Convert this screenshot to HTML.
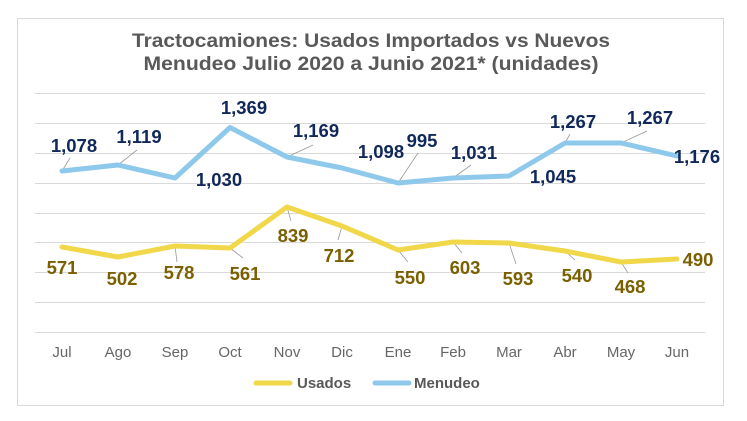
<!DOCTYPE html>
<html><head><meta charset="utf-8"><style>
body{margin:0;background:#fff;}
svg{display:block;font-family:"Liberation Sans",sans-serif;}
</style></head><body>
<svg width="747" height="421" viewBox="0 0 747 421">
<rect x="17.5" y="18.5" width="706" height="387" fill="#fff" stroke="#d9d9d9" stroke-width="1"/>
<g font-weight="bold" fill="#595959" font-size="19" text-anchor="middle">
<text x="371" y="47" textLength="478" lengthAdjust="spacingAndGlyphs">Tractocamiones: Usados Importados  vs Nuevos</text>
<text x="371" y="70" textLength="455" lengthAdjust="spacingAndGlyphs">Menudeo  Julio 2020 a Junio 2021* (unidades)</text>
</g>
<g stroke="#d9d9d9" stroke-width="1">
<line x1="35" x2="705" y1="93.5" y2="93.5"/><line x1="35" x2="705" y1="123.5" y2="123.5"/>
<line x1="35" x2="705" y1="153.5" y2="153.5"/><line x1="35" x2="705" y1="183.5" y2="183.5"/>
<line x1="35" x2="705" y1="213.5" y2="213.5"/><line x1="35" x2="705" y1="242.5" y2="242.5"/>
<line x1="35" x2="705" y1="272.5" y2="272.5"/><line x1="35" x2="705" y1="302.5" y2="302.5"/>
<line x1="35" x2="705" y1="332.5" y2="332.5"/>
</g>
<g stroke="#999" stroke-width="0.8">
<line x1="62" y1="171" x2="70" y2="158"/><line x1="118" y1="165" x2="137" y2="150"/>
<line x1="287" y1="157" x2="313" y2="145"/><line x1="398" y1="183" x2="418" y2="153"/>
<line x1="453" y1="178" x2="471" y2="165"/><line x1="565" y1="143" x2="570" y2="134"/>
<line x1="621" y1="143" x2="647" y2="131"/>
<line x1="175" y1="246" x2="177" y2="262"/><line x1="230" y1="248" x2="243" y2="258"/>
<line x1="287" y1="207" x2="291" y2="221"/><line x1="342" y1="226" x2="338" y2="240"/>
<line x1="398" y1="250" x2="408" y2="262"/><line x1="453" y1="242" x2="462" y2="253"/>
<line x1="509" y1="243" x2="516" y2="264"/><line x1="565" y1="251" x2="575" y2="260"/>
<line x1="621" y1="262" x2="628" y2="273"/>
</g>
<polyline fill="none" stroke="#8ec9ec" stroke-width="5" stroke-linejoin="round" stroke-linecap="round" points="62,171 118,165 175,178 230,127.5 287,157 342,168 398,183 453,178 509,176 565,143 621,143 677,156"/>
<polyline fill="none" stroke="#f0d84a" stroke-width="5" stroke-linejoin="round" stroke-linecap="round" points="62,247 118,257 175,246 230,248 287,207 342,226 398,250 453,242 509,243 565,251 621,262 677,259"/>
<g font-weight="bold" font-size="18.5" fill="#10285a" text-anchor="middle">
<text x="74" y="152">1,078</text><text x="139" y="143">1,119</text><text x="219" y="186">1,030</text>
<text x="244" y="114">1,369</text><text x="316" y="137">1,169</text><text x="381" y="158">1,098</text>
<text x="422" y="147">995</text><text x="474" y="159">1,031</text><text x="553" y="183">1,045</text>
<text x="573" y="128">1,267</text><text x="650" y="124">1,267</text><text x="697" y="163">1,176</text>
</g>
<g font-weight="bold" font-size="18.5" fill="#7a6000" text-anchor="middle">
<text x="62" y="274">571</text><text x="122" y="285">502</text><text x="179" y="279">578</text>
<text x="245" y="280">561</text><text x="293" y="242">839</text><text x="339" y="262">712</text>
<text x="410" y="284">550</text><text x="465" y="274">603</text><text x="518" y="285">593</text>
<text x="577" y="282">540</text><text x="630" y="293">468</text><text x="698" y="266">490</text>
</g>
<g font-size="15" fill="#666" text-anchor="middle">
<text x="62" y="357">Jul</text><text x="118" y="357">Ago</text><text x="175" y="357">Sep</text>
<text x="230" y="357">Oct</text><text x="287" y="357">Nov</text><text x="342" y="357">Dic</text>
<text x="398" y="357">Ene</text><text x="453" y="357">Feb</text><text x="509" y="357">Mar</text>
<text x="565" y="357">Abr</text><text x="621" y="357">May</text><text x="677" y="357">Jun</text>
</g>
<line x1="256" y1="383" x2="290" y2="383" stroke="#f0d84a" stroke-width="5" stroke-linecap="round"/>
<line x1="375" y1="383" x2="409" y2="383" stroke="#8ec9ec" stroke-width="5" stroke-linecap="round"/>
<g font-size="15" font-weight="bold" fill="#595959">
<text x="297" y="388">Usados</text><text x="414" y="388">Menudeo</text>
</g>
</svg>
</body></html>
